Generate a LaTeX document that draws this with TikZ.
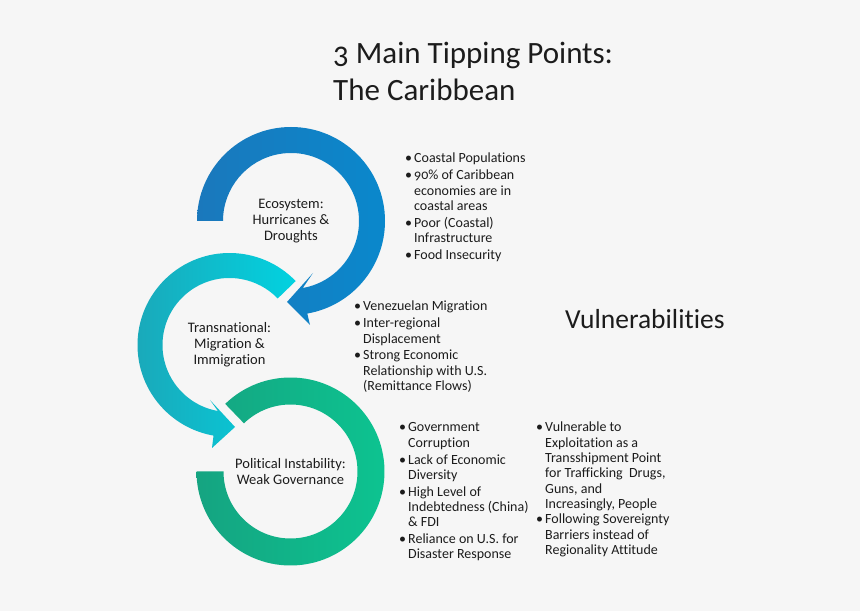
\documentclass[tikz,border=0pt]{standalone}
\usepackage{fontspec}
\setmainfont{Carlito}[Numbers=OldStyle, Ligatures=NoCommon]
\usetikzlibrary{shadows}
\definecolor{bg}{HTML}{F6F6F6}
\definecolor{txt}{HTML}{1C1C1C}
\definecolor{blueA}{HTML}{1A78BC}
\definecolor{blueB}{HTML}{0AA0E0}
\definecolor{blueC}{HTML}{0A88CC}
\definecolor{cyanA}{HTML}{1BA7B8}
\definecolor{cyanB}{HTML}{02D2E0}
\definecolor{cyanC}{HTML}{06C6DA}
\definecolor{greenA}{HTML}{15A481}
\definecolor{greenB}{HTML}{05D69E}
\definecolor{greenC}{HTML}{0CC591}
\newcommand\bul{\textbullet}
\begin{document}
\begin{tikzpicture}[x=1pt,y=1pt,
    every node/.style={inner sep=0pt, text=txt},
    ring/.style={drop shadow={opacity=0.2, shadow xshift=1pt, shadow yshift=-3pt}},
    lbl/.style={align=center, font=\fontsize{14.5}{16}\selectfont},
    lst/.style={anchor=base west, font=\fontsize{14}{15.3}\selectfont}]
\fill[bg] (0,0) rectangle (860,611);
\useasboundingbox (0,0) rectangle (860,611);
\coordinate (ceco) at (291,390);
\coordinate (ctra) at (229.5,266);
\coordinate (cpol) at (290.5,139.5);
\begin{scope}[ring]
\shade[left color=greenA, middle color=greenB, right color=greenC]
  ([shift={(134:94)}]cpol) arc[start angle=134, end angle=-180, radius=94]
  -- ([shift={(180:67)}]cpol) arc[start angle=-180, end angle=134, radius=67] -- cycle;
\shade[left color=cyanA, middle color=cyanC, right color=cyanB]
  ([shift={(44:92)}]ctra) arc[start angle=44, end angle=260, radius=92]
  -- ([shift={(-17.5,-103)}]ctra) -- ([shift={(5.5,-82)}]ctra) -- ([shift={(-19.5,-55)}]ctra)
  -- ([shift={(260:67)}]ctra) arc[start angle=260, end angle=44, radius=67] -- cycle;
\shade[left color=blueA, middle color=blueB, right color=blueC]
  ([shift={(180:94)}]ceco) arc[start angle=180, end angle=-80, radius=94]
  -- ([shift={(19,-104)}]ceco) -- ([shift={(-4,-81)}]ceco) -- ([shift={(22,-52)}]ceco)
  -- ([shift={(-80:68)}]ceco) arc[start angle=-80, end angle=180, radius=68] -- cycle;
\end{scope}
\node[lbl] (eco) at (ceco) {Ecosystem:\\Hurricanes \&\\Droughts};
\node[lbl] (tra) at (ctra) {Transnational:\\Migration \&\\Immigration};
\node[lbl] (pol) at (cpol) {Political Instability:\\Weak Governance};
\node[anchor=base west, font=\fontsize{31}{38}\selectfont] (tt1) at (333,547) {3 Main Tipping Points:};
\node[anchor=base west, font=\fontsize{31}{38}\selectfont] (tt2) at (333,510) {The Caribbean};
\node[anchor=base west, font=\fontsize{27.5}{32}\selectfont] (vul) at (565,282) {Vulnerabilities};
\node[lst] (l1) at (405,448) {\begin{tabular}[t]{@{}l@{\hspace{2pt}}l@{}}
\bul & Coastal Populations\\[1.5pt]
\bul & 90\% of Caribbean\\
 & economies are in\\
 & coastal areas\\[1.5pt]
\bul & Poor (Coastal)\\
 & Infrastructure\\[1.5pt]
\bul & Food Insecurity
\end{tabular}};
\node[lst] (l2) at (354,300) {\begin{tabular}[t]{@{}l@{\hspace{2pt}}l@{}}
\bul & Venezuelan Migration\\[1.5pt]
\bul & Inter-regional\\
 & Displacement\\[1.5pt]
\bul & Strong Economic\\
 & Relationship with U.S.\\
 & (Remittance Flows)
\end{tabular}};
\node[lst] (l3) at (399,179) {\begin{tabular}[t]{@{}l@{\hspace{2pt}}l@{}}
\bul & Government\\
 & Corruption\\[1.5pt]
\bul & Lack of Economic\\
 & Diversity\\[1.5pt]
\bul & High Level of\\
 & Indebtedness (China)\\
 & \& FDI\\[1.5pt]
\bul & Reliance on U.S. for\\
 & Disaster Response
\end{tabular}};
\node[lst] (l4) at (536,179) {\begin{tabular}[t]{@{}l@{\hspace{2pt}}l@{}}
\bul & Vulnerable to\\
 & Exploitation as a\\
 & Transshipment Point\\
 & for Trafficking~ Drugs,\\
 & Guns, and\\
 & Increasingly, People\\
\bul & Following Sovereignty\\
 & Barriers instead of\\
 & Regionality Attitude
\end{tabular}};
\end{tikzpicture}
\end{document}
